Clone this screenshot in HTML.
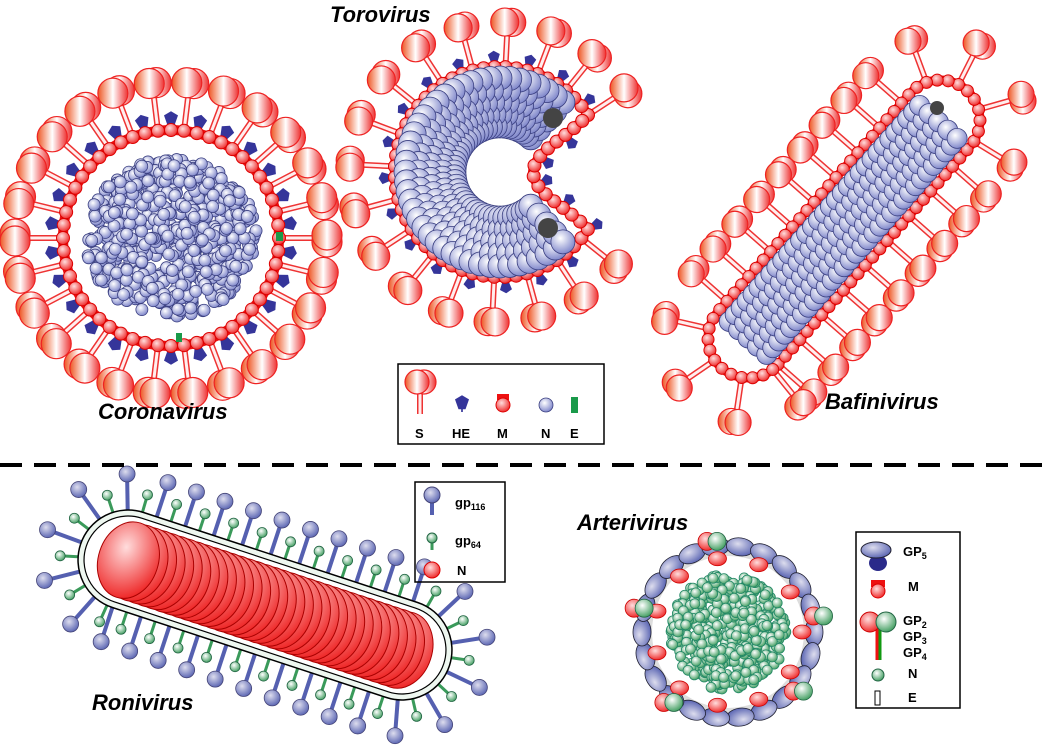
<!DOCTYPE html>
<html><head><meta charset="utf-8"><style>
body{margin:0;background:#fff}
svg{display:block}
text{font-family:"Liberation Sans",Arial,sans-serif;font-weight:bold}
.t{font-size:22px;font-style:italic}
.l{font-size:13px}
</style></head><body>
<svg id="s" width="1042" height="748" viewBox="0 0 1042 748" xmlns="http://www.w3.org/2000/svg">
<defs>
<linearGradient id="gS" x1="0" y1="0" x2="1" y2="0"><stop offset="0" stop-color="#e52"/><stop offset=".5" stop-color="#fff"/><stop offset="1" stop-color="#e33"/></linearGradient>
<radialGradient id="gN" cx=".4" cy=".35" r=".7"><stop offset="0" stop-color="#fff"/><stop offset="1" stop-color="#7880c8"/></radialGradient>
<radialGradient id="gR" cx=".4" cy=".35" r=".7"><stop offset="0" stop-color="#fdd"/><stop offset="1" stop-color="#e22"/></radialGradient>
<radialGradient id="gG" cx=".4" cy=".35" r=".7"><stop offset="0" stop-color="#fff"/><stop offset="1" stop-color="#3a9a5a"/></radialGradient>
<radialGradient id="gB" cx=".4" cy=".35" r=".7"><stop offset="0" stop-color="#dde"/><stop offset="1" stop-color="#5560b0"/></radialGradient>
</defs>
<g id="L1"></g><g id="L2"></g><g id="L3"></g>
<line x1="0" y1="465" x2="1042" y2="465" stroke="#000" stroke-width="4" stroke-dasharray="22 12"/>
<text class="t" x="330" y="22">Torovirus</text>
<text class="t" x="98" y="419">Coronavirus</text>
<text class="t" x="825" y="409">Bafinivirus</text>
<text class="t" x="92" y="710">Ronivirus</text>
<text class="t" x="577" y="530">Arterivirus</text>
<rect x="398" y="364" width="206" height="80" fill="none" stroke="#000" stroke-width="1.5"/>
<text class="l" x="415" y="438">S</text><text class="l" x="452" y="438">HE</text><text class="l" x="497" y="438">M</text><text class="l" x="541" y="438">N</text><text class="l" x="570" y="438">E</text>
<rect x="415" y="482" width="90" height="100" fill="none" stroke="#000" stroke-width="1.5"/>
<text class="l" x="455" y="507">gp<tspan font-size="9" dy="3">116</tspan></text>
<text class="l" x="455" y="545">gp<tspan font-size="9" dy="3">64</tspan></text>
<text class="l" x="457" y="575">N</text>
<rect x="856" y="532" width="104" height="176" fill="none" stroke="#000" stroke-width="1.5"/>
<text class="l" x="903" y="556">GP<tspan font-size="9" dy="3">5</tspan></text>
<text class="l" x="908" y="591">M</text>
<text class="l" x="903" y="625">GP<tspan font-size="9" dy="3">2</tspan></text>
<text class="l" x="903" y="641">GP<tspan font-size="9" dy="3">3</tspan></text>
<text class="l" x="903" y="657">GP<tspan font-size="9" dy="3">4</tspan></text>
<text class="l" x="908" y="678">N</text>
<text class="l" x="908" y="702">E</text>
</svg>
<script>
const NS='http://www.w3.org/2000/svg';
const L1=document.getElementById('L1'),L2=document.getElementById('L2'),L3=document.getElementById('L3');
function el(t,a,p){const e=document.createElementNS(NS,t);for(const k in a)e.setAttribute(k,a[k]);p.appendChild(e);return e;}
let seed=7;function rnd(){seed=(seed*16807)%2147483647;return seed/2147483647;}
function spike(x,y,nx,ny,len,hr){
 const hx=x+nx*(len+hr),hy=y+ny*(len+hr);
 el('line',{x1:x,y1:y,x2:x+nx*len,y2:y+ny*len,stroke:'#e33','stroke-width':6},L1);
 el('line',{x1:x,y1:y,x2:x+nx*len,y2:y+ny*len,stroke:'#fee','stroke-width':3},L1);
 el('circle',{cx:hx-ny*4,cy:hy+nx*4,r:hr,fill:'url(#gS)',stroke:'#e22','stroke-width':1.2},L1);
 el('circle',{cx:hx+ny*3,cy:hy-nx*3,r:hr,fill:'url(#gS)',stroke:'#e22','stroke-width':1.2},L1);
}
function he(x,y,nx,ny,s){
 const cx=x+nx*s*1.4,cy=y+ny*s*1.4;const px=-ny,py=nx;
 const pts=[[-0.5,-1],[0.5,-1],[1,0.4],[0,1],[-1,0.4]].map(([a,b])=>[cx+px*a*s+nx*b*s,cy+py*a*s+ny*b*s].join(',')).join(' ');
 el('line',{x1:x,y1:y,x2:cx,y2:cy,stroke:'#55a','stroke-width':2},L1);
 el('polygon',{points:pts,fill:'#35359a'},L1);
}
function bead(x,y,r,p){el('circle',{cx:x,cy:y,r:r,fill:'url(#gR)',stroke:'#d00','stroke-width':1},p||L2);}
function nb(x,y,r,f,s,p){el('circle',{cx:x,cy:y,r:r,fill:f||'url(#gN)',stroke:s||'#3a3f80','stroke-width':0.8},p||L3);}
/* Coronavirus */
(function(){const cx=171,cy=238,R=108;
 el('circle',{cx:cx,cy:cy,r:R,fill:'none',stroke:'#e11','stroke-width':10},L2);
 for(let i=0;i<26;i++){const a=i/26*2*Math.PI,nx=Math.cos(a),ny=Math.sin(a);spike(cx+nx*(R+5),cy+ny*(R+5),nx,ny,28,15);
  const b=a+Math.PI/26;he(cx+Math.cos(b)*(R+2),cy+Math.sin(b)*(R+2),Math.cos(b),Math.sin(b),7);}
 for(let i=0;i<52;i++){const a=i/52*2*Math.PI;bead(cx+Math.cos(a)*R,cy+Math.sin(a)*R,6.5);}
 for(let i=0;i<650;i++){const a=rnd()*6.283,r=Math.sqrt(rnd())*84;nb(cx+Math.cos(a)*r*1.02,cy+Math.sin(a)*r*0.95,6);}
 el('rect',{x:276,y:232,width:7,height:9,fill:'#1a9a4a'},L2);el('rect',{x:176,y:333,width:6,height:9,fill:'#1a9a4a'},L2);
})();
/* Torovirus */
(function(){const p=el('path',{d:'M588,115 A105 105 0 1 0 588,229 C565,205 535,195 533,172 C535,150 565,140 588,115 Z',fill:'none',stroke:'#e11','stroke-width':10},L2);
 const len=p.getTotalLength();
 for(let s=0;s<len;s+=11){const q=p.getPointAtLength(s),q2=p.getPointAtLength(Math.min(len,s+1));let tx=q2.x-q.x,ty=q2.y-q.y;const m=Math.hypot(tx,ty)||1;tx/=m;ty/=m;const nx=-ty,ny=tx;
  const d=Math.hypot(q.x-500,q.y-172);const inNotch=q.x>520&&d<100;
  if(Math.round(s/11)%3==0&&!inNotch)spike(q.x+nx*5,q.y+ny*5,nx,ny,26,14);
  if(Math.round(s/11)%3==1)he(q.x+nx*2,q.y+ny*2,nx,ny,6);
  bead(q.x,q.y,6.5);}
 const cx=500,cy=172;
 for(let a=-48;a>=-312;a-=6){const r0=a*Math.PI/180;for(let o=-24;o<=24;o+=12){const r=70+o;nb(cx+Math.cos(r0)*r,cy+Math.sin(r0)*r,12);}}
 el('circle',{cx:553,cy:118,r:10,fill:'#444'},L3);el('circle',{cx:548,cy:228,r:10,fill:'#444'},L3);
})();
/* capsule helper */
function capsule(A,B,w){const dx=B[0]-A[0],dy=B[1]-A[1],m=Math.hypot(dx,dy),ux=dx/m,uy=dy/m,px=-uy,py=ux;
 return `M${A[0]+px*w},${A[1]+py*w} L${B[0]+px*w},${B[1]+py*w} A${w} ${w} 0 0 0 ${B[0]-px*w},${B[1]-py*w} L${A[0]-px*w},${A[1]-py*w} A${w} ${w} 0 0 0 ${A[0]+px*w},${A[1]+py*w} Z`;}
function along(p,step,f){const len=p.getTotalLength();let i=0;for(let s=0;s<len;s+=step,i++){const q=p.getPointAtLength(s),q2=p.getPointAtLength(Math.min(len,s+1));let tx=q2.x-q.x,ty=q2.y-q.y;const m=Math.hypot(tx,ty)||1;tx/=m;ty/=m;f(q.x,q.y,tx,ty,i);}}
/* Bafinivirus */
(function(){const A=[748,338],B=[940,120];
 const p=el('path',{d:capsule(A,B,40),fill:'#fff',stroke:'#e11','stroke-width':9},L2);
 along(p,11,(x,y,tx,ty,i)=>{let nx=ty,ny=-tx;const cx=(A[0]+B[0])/2,cy=(A[1]+B[1])/2;if((x-cx)*nx+(y-cy)*ny<0){nx=-nx;ny=-ny;}
  if(i%3==0)spike(x+nx*5,y+ny*5,nx,ny,27,13);bead(x,y,6);});
 const dx=B[0]-A[0],dy=B[1]-A[1],m=Math.hypot(dx,dy),ux=dx/m,uy=dy/m;
 for(let s=0;s<=m;s+=9)for(let o=-25;o<=25;o+=12.5)nb(A[0]+ux*s-uy*o,A[1]+uy*s+ux*o,10);
 el('circle',{cx:937,cy:108,r:7,fill:'#444'},L3);
})();
/* Ronivirus */
(function(){const A=[128,560],B=[402,650];
 const p=el('path',{d:capsule(A,B,50),fill:'#eef7f0',stroke:'#000','stroke-width':1.5},L2);
 el('path',{d:capsule(A,B,44),fill:'#fff',stroke:'#000','stroke-width':1.2},L2);
 along(p,15,(x,y,tx,ty,i)=>{let nx=ty,ny=-tx;const cx=(A[0]+B[0])/2,cy=(A[1]+B[1])/2;if((x-cx)*nx+(y-cy)*ny<0){nx=-nx;ny=-ny;}
  if(i%2==0){el('line',{x1:x,y1:y,x2:x+nx*30,y2:y+ny*30,stroke:'#5560b0','stroke-width':4},L1);el('circle',{cx:x+nx*36,cy:y+ny*36,r:8,fill:'url(#gB)',stroke:'#447','stroke-width':0.8},L1);}
  else{el('line',{x1:x,y1:y,x2:x+nx*14,y2:y+ny*14,stroke:'#3a9a5a','stroke-width':3},L1);el('circle',{cx:x+nx*18,cy:y+ny*18,r:5,fill:'url(#gG)',stroke:'#264','stroke-width':0.8},L1);}});
 const dx=B[0]-A[0],dy=B[1]-A[1],m=Math.hypot(dx,dy),ux=dx/m,uy=dy/m;
 for(let s=m;s>=0;s-=9)el('ellipse',{cx:A[0]+ux*s,cy:A[1]+uy*s,rx:30,ry:39,transform:`rotate(${Math.atan2(dy,dx)*180/Math.PI} ${A[0]+ux*s} ${A[1]+uy*s})`,fill:'url(#gR)',stroke:'#a00','stroke-width':1},L3);
})();
/* Arterivirus */
(function(){const cx=728,cy=632,R=80;
 el('circle',{cx:cx,cy:cy,r:R,fill:'none',stroke:'#ddd','stroke-width':8},L2);
 for(let i=0;i<22;i++){const a=i/22*6.283,c=Math.cos(a),s=Math.sin(a);
  el('ellipse',{cx:cx+c*(R+6),cy:cy+s*(R+6),rx:14,ry:9,transform:`rotate(${a*180/Math.PI+90} ${cx+c*(R+6)} ${cy+s*(R+6)})`,fill:'url(#gB)',stroke:'#223','stroke-width':0.8},L2);
  if(i%2==0)el('ellipse',{cx:cx+c*(R-6),cy:cy+s*(R-6),rx:9,ry:7,fill:'url(#gR)',stroke:'#c00','stroke-width':0.8},L2);}
 [[-100],[-10],[40],[130],[195]].forEach(([d])=>{const a=d*Math.PI/180;el('circle',{cx:cx+Math.cos(a)*(R+12)-5,cy:cy+Math.sin(a)*(R+12),r:9,fill:'url(#gR)',stroke:'#c00','stroke-width':0.8},L2);el('circle',{cx:cx+Math.cos(a)*(R+12)+5,cy:cy+Math.sin(a)*(R+12),r:9,fill:'url(#gG)',stroke:'#264','stroke-width':0.8},L2);});
 for(let i=0;i<500;i++){const a=rnd()*6.283,r=Math.sqrt(rnd())*58;nb(cx+Math.cos(a)*r,cy+Math.sin(a)*r,5,'url(#gG)','#286',L3);}
})();
/* legends */
spike(420,414,0,-1,20,12);
he(462,412,0,-1,7);
el('rect',{x:497,y:394,width:12,height:6,fill:'#e11'},L3);bead(503,405,7,L3);
nb(546,405,7);
el('rect',{x:571,y:397,width:7,height:16,fill:'#1a9a4a'},L3);
el('line',{x1:432,y1:515,x2:432,y2:495,stroke:'#5560b0','stroke-width':4},L3);el('circle',{cx:432,cy:495,r:8,fill:'url(#gB)',stroke:'#447'},L3);
el('line',{x1:432,y1:550,x2:432,y2:540,stroke:'#3a9a5a','stroke-width':3},L3);el('circle',{cx:432,cy:538,r:5,fill:'url(#gG)',stroke:'#264'},L3);
bead(432,570,8,L3);
el('ellipse',{cx:878,cy:563,rx:9,ry:8,fill:'#2a2a8a'},L3);el('ellipse',{cx:876,cy:550,rx:15,ry:8,fill:'url(#gB)',stroke:'#223'},L3);
el('rect',{x:871,y:580,width:14,height:7,fill:'#e11'},L3);bead(878,591,7,L3);
el('line',{x1:877,y1:622,x2:877,y2:660,stroke:'#e11','stroke-width':3},L3);el('line',{x1:880,y1:622,x2:880,y2:660,stroke:'#191','stroke-width':3},L3);
el('circle',{cx:870,cy:622,r:10,fill:'url(#gR)',stroke:'#c00'},L3);el('circle',{cx:886,cy:622,r:10,fill:'url(#gG)',stroke:'#264'},L3);
el('circle',{cx:878,cy:675,r:6,fill:'url(#gG)',stroke:'#264'},L3);
el('rect',{x:875,y:691,width:5,height:14,fill:'#fff',stroke:'#000'},L3);
</script>
</body></html>
